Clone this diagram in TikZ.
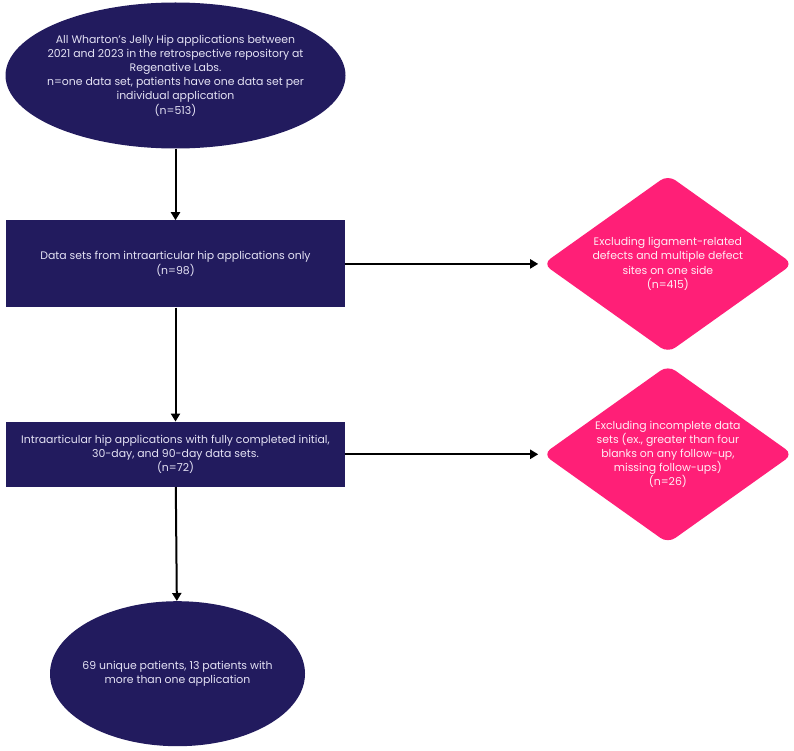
\documentclass[tikz,border=0pt]{standalone}
\usepackage{fontspec}
\setmainfont{Poppins}
\usetikzlibrary{positioning,shapes.geometric,arrows.meta}

\definecolor{navy}{HTML}{221B5E}
\definecolor{hotpink}{HTML}{FF1F77}
\definecolor{lavtext}{HTML}{E4E2F4}

\tikzset{
  stage/.style={ellipse, fill=navy, inner sep=0pt},
  stagetext/.style={text=lavtext, align=center, font=\fontsize{10.9}{14.2}\selectfont},
  box/.style={rectangle, fill=navy, text=lavtext, align=center, inner sep=0pt,
    minimum width=339pt, font=\fontsize{10.9}{14.2}\selectfont},
  excl/.style={diamond, fill=hotpink, rounded corners=9pt, inner sep=0pt,
    minimum width=250pt, minimum height=178pt},
  excltext/.style={text=white!92!hotpink, align=center, font=\fontsize{10.9}{14.2}\selectfont},
  flow/.style={-{Triangle[width=9pt,length=8pt]}, line width=2pt, black},
}

\begin{document}
\begin{tikzpicture}[x=1pt, y=1pt]
  \useasboundingbox (0,0) rectangle (794,-751);
  \node[stage, minimum width=340pt, minimum height=146pt,
    label={[stagetext]center:{All Wharton’s Jelly Hip applications between\\
     2021 and 2023 in the retrospective repository at\\
     Regenative Labs.\\
     n=one data set, patients have one data set per\\
     individual application\\
     (n=513)}}] (all) at (175.5,-75.5) {} ; %
  \node[box, minimum height=87pt, below=71.5pt of all] (intra)
    {Data sets from intraarticular hip applications only\\ (n=98)} ; %
  \node[box, minimum height=65pt, below=114pt of intra] (full)
    {Intraarticular hip applications with fully completed initial,\\
     30-day, and 90-day data sets.\\ (n=72)} ; %
  \node[stage, minimum width=255pt, minimum height=145pt, below=114pt of full, xshift=2pt,
    label={[stagetext]center:{69 unique patients, 13 patients with\\ more than one application}}] (uniq) {} ; %

  \node[excl, right=197.5pt of intra,
    label={[excltext]center:{Excluding ligament-related\\ defects and multiple defect\\ sites on one side\\ (n=415)}}] (lig) {} ; %
  \node[excl, right=197.5pt of full,
    label={[excltext]center:{Excluding incomplete data\\ sets (ex., greater than four\\ blanks on any follow-up,\\ missing follow-ups)\\ (n=26)}}] (incomp) {} ; %

  \draw[flow] (all) -- (intra) ; %
  \draw[flow] (intra) -- (full) ; %
  \draw[flow] (full) -- (uniq) ; %
  \draw[flow, shorten >=4.5pt] (intra) -- (lig) ; %
  \draw[flow, shorten >=4.5pt] (full) -- (incomp) ; %
\end{tikzpicture}
\end{document}
